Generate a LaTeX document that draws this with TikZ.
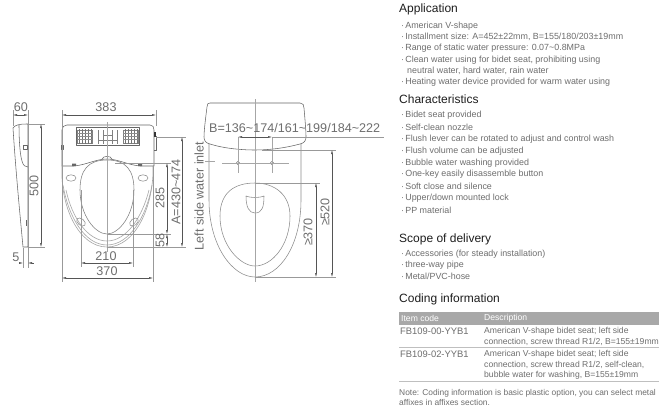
\documentclass[tikz,border=0pt]{standalone}
\usepackage{fontspec}
\setmainfont{Liberation Sans}
\usetikzlibrary{arrows.meta}
\definecolor{txt}{HTML}{6E6E6E}
\definecolor{head}{HTML}{1E1E1E}
\definecolor{dimc}{HTML}{555555}
\definecolor{band}{HTML}{A8A8A8}
\newcommand{\bul}{·\kern1.2pt}
\tikzset{
  x=1pt,y=-1pt,
  outline/.style={draw=black!60,line width=.55pt,line join=round},
  ring/.style={draw=black!35,line width=.6pt},
  thin line/.style={draw=black!40,line width=.35pt},
  center line/.style={draw=black!35,line width=.35pt},
  dimen/.style={draw=dimc,line width=.4pt,{Latex[length=4pt,width=2pt]}-{Latex[length=4pt,width=2pt]}},
  dimtext/.style={text=txt,font=\fontsize{12.6}{13}\selectfont,inner sep=0pt},
  heading/.style={anchor=west,text=head,font=\fontsize{12}{13}\selectfont,inner sep=0pt},
  body/.style={anchor=west,text=txt,font=\fontsize{8.9}{10}\selectfont,inner sep=0pt},
  cell/.style={anchor=west,text=txt,font=\fontsize{8.6}{10}\selectfont,inner sep=0pt},
  code/.style={anchor=west,text=txt,font=\fontsize{9.4}{10}\selectfont,inner sep=0pt},
  note/.style={anchor=west,text=txt,font=\fontsize{8.4}{10}\selectfont,inner sep=0pt},
}
\begin{document}
\begin{tikzpicture}
\useasboundingbox (0,0) rectangle (669,410);
\fill[white] (0,0) rectangle (669,410);

% ---- side view
\draw[outline,fill=white] (13,128) .. controls (15,125) and (19,124) .. (27,124) -- (28,124) -- (28,247) -- (23,247)
  .. controls (21,225) and (16,175) .. (13,128) -- cycle;
\draw[outline] (19,125) .. controls (19,140) and (20,155) .. (22,161) .. controls (23,166) and (26,167) .. (28,167);
\draw[outline] (23,145) rectangle (27,149);
\draw[outline] (26,220) -- (26,226);
\draw[thin line] (13,110) -- (13,126) (28,110) -- (28,268) (23,248) -- (23,268);
\draw[thin line] (28,124) -- (45,124) (28,247) -- (45,247);
\draw[dimen] (13,115) -- (28,115);
\draw[dimen] (41,124) -- (41,247);
\draw[draw=dimc,line width=.4pt,-{Latex[length=4pt,width=2pt]}] (19,263) -- (23,263);
\draw[draw=dimc,line width=.4pt,{Latex[length=4pt,width=2pt]}-] (28,263) -- (34,263);
\node[dimtext] (t60) at (21,107) {60};
\node[dimtext,rotate=90] (t500) at (34,186) {500};
\node[dimtext] (t5) at (16,257) {5};

% ---- front view
\draw[ring] (62,166) .. controls (60,205) and (78,247) .. (107,247) .. controls (136,247) and (154,205) .. (153,166);
\draw[ring] (63,185) .. controls (68,215) and (84,245) .. (107,245) .. controls (130,245) and (147,215) .. (152,185);
\draw[ring] (66,190) .. controls (72,218) and (88,241) .. (107,241) .. controls (126,241) and (142,218) .. (149,190);
\draw[outline,draw=black!50] (107,160) .. controls (88,160) and (80,170) .. (80,190) .. controls (80,215) and (95,234) .. (107,234)
  .. controls (119,234) and (134,215) .. (134,190) .. controls (134,170) and (126,160) .. (107,160) -- cycle;
\draw[outline,fill=white] (62,130) .. controls (62,127) and (64,125) .. (67,125) -- (150,125)
  .. controls (153,125) and (154,127) .. (154,130) -- (154,166) -- (140,166) .. controls (128,165) and (118,159) .. (107,159)
  .. controls (96,159) and (86,165) .. (74,166) -- (62,166) -- cycle;
\draw[outline] (154,136) -- (156,136) -- (156,150) -- (154,150);
\fill[black!80] (153.5,132) rectangle (156,136.5);
\draw[outline] (61,145) rectangle (63,149);
\draw[outline] (76,127) rectangle (139,145);
\draw[black!50,line width=.5pt] (77,130) rectangle (92,143) (123,130) rectangle (138,143);
\foreach \p in {79,82,...,91,125,128,...,137} \draw[black!55,line width=.4pt] (\p,129) -- (\p,144);
\foreach \p in {133,136,139} {\draw[black!45,line width=.3pt] (77,\p) -- (92,\p) (123,\p) -- (138,\p);}
\draw[black!50,line width=.4pt] (98,130) -- (98,144) (117,130) -- (117,144) (103,130) -- (103,144) (112,130) -- (112,144) (103,135) -- (112,135) (98,140) -- (117,140);
\fill[black!60] (72,163.5) rectangle (76,166) (138,163.5) rectangle (142,166);
\draw[outline] (102,159) .. controls (103,155.5) and (111,155.5) .. (112,159);
\draw[outline,draw=black!45] (71,178) ellipse [x radius=5,y radius=3.2];
\draw[outline,draw=black!45] (143,178) ellipse [x radius=5,y radius=3.2];
\draw[outline,draw=black!45,rotate around={-40:(81,222)}] (81,222) ellipse [x radius=5,y radius=3.2];
\draw[outline,draw=black!45,rotate around={40:(134,222)}] (134,222) ellipse [x radius=5,y radius=3.2];
\draw[center line] (107,122) -- (107,252);
\draw[thin line] (62,110) -- (62,282) (156,110) -- (156,126) (153,166) -- (153,282);
\draw[thin line] (81,190) -- (81,267) (133,190) -- (133,267);
\draw[thin line] (156,137) -- (186,137) (115,163) -- (171,163) (107,234) -- (171,234) (107,247) -- (186,247);
\draw[dimen] (62,115) -- (156,115);
\draw[dimen] (81,263) -- (133,263);
\draw[dimen] (62,278) -- (153,278);
\draw[dimen] (182,137) -- (182,247);
\draw[dimen] (167,163) -- (167,234);
\draw[dimen] (167,234) -- (167,247);
\node[dimtext] (t383) at (106,107) {383};
\node[dimtext] (t210) at (106,256) {210};
\node[dimtext] (t370) at (107,271) {370};
\node[dimtext,rotate=90] (t285) at (160,198) {285};
\node[dimtext,rotate=90] (tA) at (176,192) {A=430\char"7E 474};
\node[dimtext,rotate=90] (t58) at (160,240) {58};
\node[dimtext,rotate=90] (tinlet) at (199,196) {Left side water inlet};

% ---- toilet
\draw[outline,draw=black!45] (209,143) -- (209,200) .. controls (209,245) and (232,277) .. (255,277) .. controls (280,277) and (301,245) .. (301,200) -- (301,143);
\draw[outline,fill=white] (210,103) -- (300,103) .. controls (303,103) and (304,105) .. (304,108)
  .. controls (305,120) and (306,130) .. (306,137) .. controls (306,141) and (304,143) .. (300,144)
  .. controls (285,148) and (270,150) .. (255,150) .. controls (240,150) and (222,148) .. (210,144)
  .. controls (206,143) and (204,141) .. (204,137) .. controls (204,130) and (206,115) .. (207,107)
  .. controls (207,104) and (208,103) .. (210,103) -- cycle;
\draw[outline,draw=black!45] (255,183) .. controls (235,183) and (220,192) .. (220,216) .. controls (220,245) and (240,266) .. (255,266)
  .. controls (272,266) and (290,245) .. (290,216) .. controls (290,195) and (275,183) .. (255,183) -- cycle;
\draw[outline,draw=black!45] (246,196) .. controls (250,198) and (260,198) .. (264,196) .. controls (264,207) and (262,213) .. (255,213) .. controls (249,213) and (246,207) .. (246,196) -- cycle;
\draw[outline,draw=black!50] (238,163) circle (1.7) (272,163) circle (1.7);
\draw[center line] (255,99) -- (255,282);
\draw[center line] (205,161) -- (215,161) (222,163) -- (289,163);
\draw[center line] (238,137) -- (238,173) (272,137) -- (272,173);
\draw[thin line] (262,150) -- (336,150) (255,183) -- (320,183) (255,277) -- (336,277);
\draw[thin line] (272,137) -- (384,137);
\draw[dimen] (238,137) -- (272,137);
\draw[dimen] (332,150) -- (332,277);
\draw[dimen] (316,183) -- (316,277);
\node[dimtext,anchor=west] (tB) at (209,128) {B=136\char"7E 174/161\char"7E 199/184\char"7E 222};
\node[dimtext,rotate=90] (t520) at (325,212) {≥520};
\node[dimtext,rotate=90] (t370b) at (308,232) {≥370};

% ---- right column
\node[heading] (h1) at (399,9) {Application};
\node[body] (a1) at (401,26) {\bul American V-shape};
\node[body] (a2) at (401,37) {\bul Installment size: A=452±22mm, B=155/180/203±19mm};
\node[body] (a3) at (401,48) {\bul Range of static water pressure: 0.07\char"7E 0.8MPa};
\node[body] (a4) at (401,60) {\bul Clean water using for bidet seat, prohibiting using};
\node[body] (a5) at (407,71) {neutral water, hard water, rain water};
\node[body] (a6) at (401,82) {\bul Heating water device provided for warm water using};
\node[heading] (h2) at (399,99) {Characteristics};
\node[body] (c1) at (401,115) {\bul Bidet seat provided};
\node[body] (c2) at (401,127) {\bul Self-clean nozzle};
\node[body] (c3) at (401,139) {\bul Flush lever can be rotated to adjust and control wash};
\node[body] (c4) at (401,151) {\bul Flush volume can be adjusted};
\node[body] (c5) at (401,163) {\bul Bubble water washing provided};
\node[body] (c6) at (401,174) {\bul One-key easily disassemble button};
\node[body] (c7) at (401,186) {\bul Soft close and silence};
\node[body] (c8) at (401,198) {\bul Upper/down mounted lock};
\node[body] (c9) at (401,210) {\bul PP material};
\node[heading] (h3) at (399,239) {Scope of delivery};
\node[body] (s1) at (401,254) {\bul Accessories (for steady installation)};
\node[body] (s2) at (401,265) {\bul three-way pipe};
\node[body] (s3) at (401,276) {\bul Metal/PVC-hose};
\node[heading] (h4) at (399,299) {Coding information};
\fill[band] (399,312) rectangle (659,325);
\node[cell,text=white] (th1) at (401,318.5) {Item code};
\node[cell,text=white] (th2) at (484,318.5) {Description};
\node[code] (r1) at (400,331) {FB109-00-YYB1};
\node[cell] (r1a) at (484,331) {American V-shape bidet seat; left side};
\node[cell] (r1b) at (484,342) {connection, screw thread R1/2, B=155±19mm};
\draw[black!25,line width=.5pt] (399,347.5) -- (659,347.5);
\node[code] (r2) at (400,354) {FB109-02-YYB1};
\node[cell] (r2a) at (484,354) {American V-shape bidet seat; left side};
\node[cell] (r2b) at (484,364.5) {connection, screw thread R1/2, self-clean,};
\node[cell] (r2c) at (484,375) {bubble water for washing, B=155±19mm};
\draw[black!25,line width=.5pt] (399,381) -- (659,381);
\node[note] (n1) at (399,393) {Note: Coding information is basic plastic option, you can select metal};
\node[note] (n2) at (399,402) {affixes in affixes section.};
\end{tikzpicture}
\end{document}
